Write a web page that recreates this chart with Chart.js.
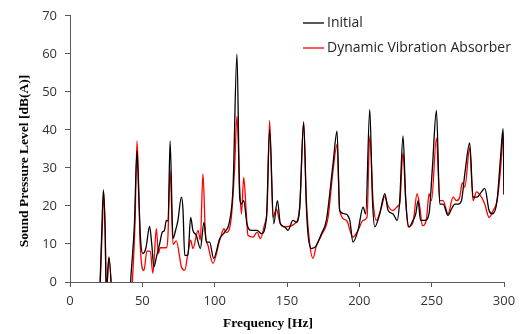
<!DOCTYPE html>
<html>
<head>
<meta charset="utf-8">
<script src="https://cdn.jsdelivr.net/npm/chart.js@4.4.1/dist/chart.umd.min.js"></script>
<style>
  body { margin:0; background:#fff; }
  #chart { display:block; }
</style>
</head>
<body>
<canvas id="chart" width="526" height="334"></canvas>
<script>
// values (below-zero points are clipped by the axis)
const seriesLabels = ['Initial', 'Dynamic Vibration Absorber'];
const xTicks = [0, 50, 100, 150, 200, 250, 300];
const yTicks = [0, 10, 20, 30, 40, 50, 60, 70];

const initialHz = [20, 20.5, 22.0, 23.1, 24.2, 25.1, 26.9, 28.8, 30, 40, 41.9, 44.5, 46.3, 47.6, 48.8, 50.4, 52.5, 55.0, 56.5, 58.0, 60.0, 62.0, 63.8, 65.2, 66.6, 67.8, 69.2,
  71.2, 73.0, 74.6, 77.0, 78.1, 79.3, 81.5, 83.4, 85.0, 87.3, 90.1, 92.6, 94.3, 96.5, 99.3, 103.5, 106.9, 110.4, 112.7, 115.4, 117.3, 118.5, 120.1, 122.3, 125.4, 129.3, 132.3, 135.8, 138.0,
  140.8, 143.4, 145.4, 148.4, 150.7, 154.1, 156.5, 158.8, 161.5, 163.4, 164.5, 166.9, 170.3, 173.8, 177.2, 181.8, 184.6, 186.4, 189.9, 193.4, 195.6, 199.1, 202.6, 204.4, 207.2,
  209.1, 210.7, 214.1, 217.6, 219.9, 223.3, 226.1, 227.9, 230.2, 232.1, 234.4, 237.1, 239.0, 240.6, 242.3, 245.2, 248.2, 250.5, 253.3, 255.6, 257.9, 261.3, 263.7, 266.0, 268.3,
  270.6, 272.9, 276.3, 278.6, 281.4, 284.4, 286.7, 289.7, 292.0, 295.2, 297.6, 299.4, 300];
const initialDb = [-8, -4, 14, 24.2, 15, -3, 6.6, -3, -15, -15, 0, 15, 34.5, 22, 11, 7.5, 9, 14.6, 10, 4, 7, 10.1, 13.1, 13.5, 16.2, 16, 37.1,
  11.4, 13.6, 16.2, 22.3, 19, 7, 7, 17, 13.5, 12.3, 8.8, 15.7, 10.5, 10.5, 6.2, 11.4, 13.1, 16.2, 24.9, 59.9, 22.3, 20.5, 21.4, 15.3, 13.6, 13.6, 12.7, 17, 40.1,
  15.3, 21.4, 15.3, 14.5, 13.6, 16.2, 15.7, 19.7, 41.9, 19.7, 12.7, 8.8, 9.6, 12.7, 16.2, 31, 39.7, 18.8, 17.9, 16.2, 10.5, 13.6, 19.7, 17.9, 45.4,
  21.4, 14.5, 17.9, 23.2, 18.8, 17.9, 16.2, 21.4, 38.4, 21.4, 14.5, 16.2, 17.9, 21.4, 16.2, 16.2, 18, 30, 45.1, 20.5, 20.5, 17.5, 19.2, 20.5, 20.5,
  21.4, 28.4, 36.6, 22.3, 22.3, 23.7, 24.6, 18.8, 17.9, 21.4, 32.8, 40.3, 23];

const dvaHz = [20, 20.5, 22.3, 23.4, 24.4, 25.1, 26.9, 28.8, 30, 40, 43.1, 45.0, 46.3, 47.5, 48.5, 51.1, 53.2, 55.5, 57.3, 59.7, 61.1, 62.4, 66.6, 67.7, 69.2,
  71.2, 73.5, 77.0, 79.3, 81.5, 83.4, 85.0, 88.5, 90.1, 91.9, 93.6, 95.4, 98.8, 103.5, 106.4, 108.1, 111.5, 113.8, 115.4, 117.3, 118.5, 120.1, 121.9, 123.0, 126.5, 129.3, 131.6,
  134.6, 136.2, 138.0, 140.3, 142.7, 145.0, 148.4, 149.6, 155.3, 158.8, 161.5, 163.4, 165.7, 168.0, 170.3, 173.8, 178.4, 181.8, 184.6, 186.4, 191.1, 195.6, 199.1, 202.6, 205.3,
  207.2, 209.5, 211.8, 215.3, 217.6, 219.9, 223.3, 226.8, 227.9, 230.2, 232.1, 233.7, 237.1, 239.9, 241.8, 243.6, 246.4, 248.2, 249.9, 253.3, 255.6, 257.9, 261.3, 264.8, 267.1,
  269.4, 271.2, 272.9, 276.3, 278.6, 281.0, 284.4, 286.7, 289.7, 292.5, 295.2, 297.8, 299.4, 300];
const dvaDb = [-8, -4, 14, 23.2, 12, -3, 6.3, -3, -15, -15, 0, 16, 37.1, 25, 10, 3, 8.2, 8, 2.3, 14, 7.5, 9, 9, 12, 29.4,
  9.9, 10.8, 4, 3.1, 7.5, 11, 8.8, 13.6, 11, 28.4, 12.7, 9.6, 4.9, 11, 14, 13, 17, 30.1, 43.6, 24.9, 17.9, 27.5, 17.9, 12.3, 11.8, 13.1, 11.4,
  15.3, 18.8, 42.5, 17, 19.2, 15.7, 14.5, 14.5, 15.3, 19.7, 42.2, 21.4, 10, 6.2, 9.6, 12.3, 17, 29.2, 36.2, 18.8, 16.2, 11.8, 13.6, 16.2, 17,
  38.4, 21.4, 16.2, 19.7, 22.5, 20, 18.8, 20, 20.5, 34, 21.4, 14.5, 15.7, 23.2, 19.7, 14.8, 16.5, 23.2, 21.4, 37.9, 21.4, 21.4, 17.9, 22.3, 21.4,
  22.3, 26.1, 24.9, 35.3, 21.4, 23.7, 22.3, 20.5, 17, 18.8, 21.4, 30.4, 39.3, 23];

function toPoints(xs, ys){
  let pts = [];
  for(let i=0; i<xs.length; i++){ pts.push({x: xs[i], y: ys[i]}); }
  return pts;
}

const tickFont = { family: "'Open Sans', 'Noto Sans', sans-serif", size: 13 };
const axisColor = '#595959';

// axis titles drawn by hand so they sit where the reference has them
const axisTitles = {
  id: 'axisTitles',
  afterDraw(chart){
    const c = chart.ctx;
    c.save();
    c.fillStyle = '#000';
    c.font = "bold 13.5px 'Liberation Serif', serif";
    c.textAlign = 'center';
    c.textBaseline = 'middle';
    c.fillText('Frequency [Hz]', 268, 324);
    c.translate(25, 161);
    c.rotate(-Math.PI/2);
    c.fillText('Sound Pressure Level [dB(A)]', 0, 0);
    c.restore();
  }
};

// legend inside the plot, upper right
const innerLegend = {
  id: 'innerLegend',
  afterDraw(chart){
    const c = chart.ctx;
    c.save();
    c.font = "14px 'Open Sans', 'Noto Sans', sans-serif";
    c.textBaseline = 'middle';
    c.textAlign = 'left';
    chart.data.datasets.forEach(function(ds, i){
      let y = 23 + i*25;
      c.strokeStyle = ds.borderColor;
      c.lineWidth = 1.3;
      c.beginPath();
      c.moveTo(303, y);
      c.lineTo(324, y);
      c.stroke();
      c.fillStyle = '#262626';
      c.fillText(ds.label, 327, y);
    });
    c.restore();
  }
};

const config = {
  type: 'line',
  data: {
    datasets: [{
      label: seriesLabels[0],
      data: toPoints(initialHz, initialDb),
      borderColor: '#000000',
      borderWidth: 1.3,
      pointRadius: 0,
      cubicInterpolationMode: 'monotone',
      fill: false
    },
    {
      label: seriesLabels[1],
      data: toPoints(dvaHz, dvaDb),
      borderColor: '#ff0000',
      borderWidth: 1.3,
      pointRadius: 0,
      cubicInterpolationMode: 'monotone',
      fill: false
    }]
  },
  options: {
    responsive: false,
    animation: false,
    layout: { padding: { left: 0, right: 22, top: 14, bottom: 0 } },
    plugins: { legend: { display: false }, tooltip: { enabled: false } },
    scales: {
      x: {
        type: 'linear',
        min: xTicks[0],
        max: xTicks[xTicks.length-1],
        afterBuildTicks: function(s){ s.ticks = xTicks.map(v => ({value: v})); },
        afterFit: function(s){ s.height = 52; },
        ticks: { font: tickFont, color: '#333', padding: 6, maxRotation: 0 },
        grid: { display: true, drawOnChartArea: false, drawTicks: true, tickLength: 5, color: axisColor },
        border: { color: axisColor, width: 1 }
      },
      y: {
        min: yTicks[0],
        max: yTicks[yTicks.length-1],
        afterBuildTicks: function(s){ s.ticks = yTicks.map(v => ({value: v})); },
        afterFit: function(s){ s.width = 70; },
        ticks: { font: tickFont, color: '#333', padding: 8 },
        grid: { display: true, drawOnChartArea: false, drawTicks: true, tickLength: 5, color: axisColor },
        border: { color: axisColor, width: 1 }
      }
    }
  },
  plugins: [axisTitles, innerLegend]
};

const myChart = new Chart(document.getElementById('chart').getContext('2d'), config);
</script>
</body>
</html>
